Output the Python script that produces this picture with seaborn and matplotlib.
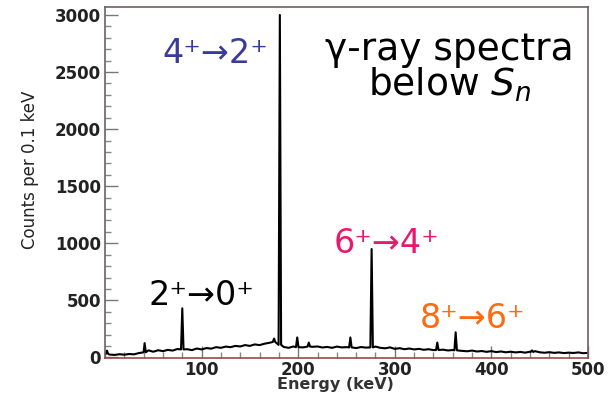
import numpy as np
import pandas as pd
import matplotlib
matplotlib.use("Agg")
import matplotlib.pyplot as plt
from matplotlib.ticker import MultipleLocator, FixedLocator
import seaborn as sns

# ---------------- data ----------------
bg_energy = [0, 5, 10, 15, 20, 25, 30, 35, 40, 45, 50, 55, 60, 65, 70, 75, 85, 90, 95,
             100, 105, 110, 115, 120, 125, 130, 135, 140, 145, 150, 155, 160, 165, 170,
             185, 190, 195, 205, 215, 220, 225, 230, 235, 240, 245, 250, 260, 265,
             270, 280, 285, 290, 295, 300, 305, 310, 315, 320, 325, 330, 335, 340,
             350, 355, 360, 370, 375, 380, 385, 390, 395, 400, 405, 410, 415, 420,
             425, 430, 435, 440, 445, 450, 455, 460, 465, 470, 475, 480, 485, 490,
             495, 500]
bg_counts = [35, 25, 22, 28, 24, 30, 27, 38, 45, 62, 50, 63, 55, 66, 60, 74, 72, 64, 78,
             70, 82, 77, 90, 84, 95, 90, 101, 96, 108, 101, 114, 108, 120, 128,
             92, 84, 96, 88, 93, 96, 87, 92, 84, 95, 88, 90, 82, 91,
             86, 95, 84, 80, 88, 75, 81, 72, 78, 70, 75, 67, 72, 64,
             68, 61, 65, 57, 54, 60, 52, 56, 49, 55, 47, 52, 45, 50,
             44, 48, 42, 50, 55, 45, 41, 46, 40, 44, 38, 42, 39, 44,
             37, 40]

peak_energy = [2, 41, 80, 175, 181, 199, 211, 254, 276, 344, 363, 442]
peak_counts = [60, 125, 430, 165, 3000, 175, 130, 175, 950, 130, 220, 62]
peak_base = [30, 45, 70, 135, 110, 90, 95, 88, 88, 65, 62, 48]

labels_text = ["4\u207a\u21922\u207a", "2\u207a\u21920\u207a", "6\u207a\u21924\u207a", "8\u207a\u21926\u207a"]
labels_color = ["#3a3a9c", "#000000", "#e8186d", "#ff6a10"]

x_major = [100, 200, 300, 400, 500]
y_major = [0, 500, 1000, 1500, 2000, 2500, 3000]

# ---------------- build spectrum table ----------------
e_list = list(bg_energy)
c_list = list(bg_counts)
for e, h, b in zip(peak_energy, peak_counts, peak_base):
    e_list += [e - 1.3, e, e + 1.3]
    c_list += [b, h, b]
df = pd.DataFrame({"energy": e_list, "counts": c_list}).sort_values("energy")

# ---------------- figure ----------------
sns.set_theme(style="white")
plt.rcParams["font.family"] = ["DejaVu Sans"]
plt.rcParams["mathtext.fontset"] = "dejavusans"

fig = plt.figure(figsize=(6.12, 3.97), dpi=100)
W, H = 612, 397
ax = fig.add_axes([105 / W, 1 - 358 / H, (588 - 105) / W, (358 - 7) / H])

sns.lineplot(data=df, x="energy", y="counts", ax=ax, color="black",
             linewidth=1.5, estimator=None, sort=True)

ax.set_xlim(0, 500)
ax.set_ylim(-5, 3070)
ax.xaxis.set_major_locator(FixedLocator(x_major))
ax.xaxis.set_minor_locator(MultipleLocator(20))
ax.yaxis.set_major_locator(FixedLocator(y_major))
ax.yaxis.set_minor_locator(MultipleLocator(100))
ax.tick_params(which="major", direction="in", length=9, width=1, color="#777777",
               labelsize=12, labelcolor="#222222", pad=3)
ax.tick_params(which="minor", direction="in", length=4, width=1, color="#888888")
ax.tick_params(axis="x", which="both", bottom=True, top=False, pad=2)
ax.tick_params(axis="y", which="both", left=True, right=False)
for lbl in ax.get_xticklabels() + ax.get_yticklabels():
    lbl.set_fontweight("bold")

for side in ["left", "top", "right"]:
    ax.spines[side].set_color("#6e6060")
    ax.spines[side].set_linewidth(1.2)
ax.spines["bottom"].set_color("#9a4a48")
ax.spines["bottom"].set_linewidth(1.2)

ax.set_xlabel("")
ax.set_ylabel("")
fig.text(335 / W, 1 - 385 / H, "Energy (keV)", fontsize=11.5, fontweight="bold",
         color="#333333", ha="center", va="center")
fig.text(30 / W, 1 - 170 / H, "Counts per 0.1 keV", rotation=90, ha="center", va="center",
         fontsize=12, color="#222222",
         family=["Liberation Sans Narrow", "DejaVu Sans Condensed", "DejaVu Sans"])

# ---------------- annotations ----------------
label_pos = [(215, 63), (201, 305), (386, 253), (473, 328)]
for txt, col, (px, py) in zip(labels_text, labels_color, label_pos):
    fig.text(px / W, 1 - py / H, txt, color=col, fontsize=24, ha="center", va="baseline")

fig.text(449 / W, 1 - 60 / H, "\u03b3-ray spectra", fontsize=27, ha="center", va="baseline", color="black")
fig.text(450 / W, 1 - 96 / H, "below $S_n$", fontsize=27, ha="center", va="baseline", color="black")

fig.savefig("out.png", dpi=100)
